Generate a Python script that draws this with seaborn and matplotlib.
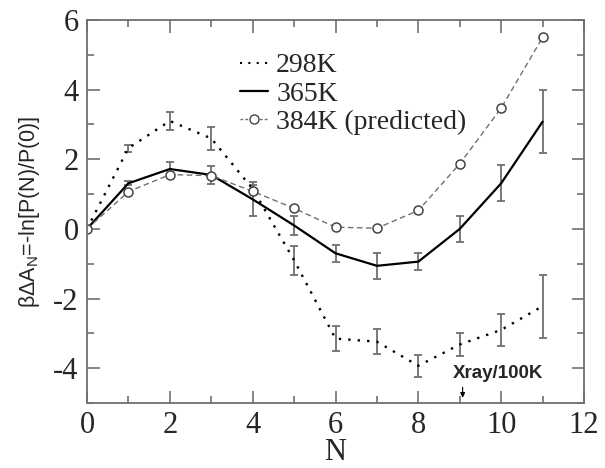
import numpy as np
import pandas as pd
import matplotlib
matplotlib.use("Agg")
import matplotlib.pyplot as plt
import seaborn as sns
from matplotlib.lines import Line2D
from matplotlib.ticker import MultipleLocator

N = list(range(12))
a298 = [0, 2.32, 3.1, 2.6, 1.15, -0.9, -3.15, -3.24, -3.93, -3.32, -2.9, -2.22]
e298 = [0, 0.1, 0.27, 0.32, 0.12, 0.42, 0.36, 0.36, 0.31, 0.33, 0.46, 0.9]
a365 = [0, 1.31, 1.72, 1.55, 0.85, 0.1, -0.7, -1.06, -0.94, 0.0, 1.31, 3.08]
e365 = [0, 0.06, 0.2, 0.25, 0.49, 0.28, 0.24, 0.37, 0.24, 0.38, 0.52, 0.9]
a384 = [0, 1.07, 1.56, 1.53, 1.08, 0.59, 0.05, 0.02, 0.53, 1.87, 3.47, 5.5]
labels = ["298K", "365K", "384K (predicted)"]
xticks = [0, 2, 4, 6, 8, 10, 12]
yticks = [-4, -2, 0, 2, 4, 6]

sns.set_style("ticks")
plt.rcParams['font.family'] = ['Liberation Serif', 'DejaVu Serif']
plt.rcParams['mathtext.fontset'] = 'custom'
plt.rcParams['mathtext.rm'] = 'Liberation Sans'
plt.rcParams['axes.unicode_minus'] = False

fig = plt.figure(figsize=(6.05, 4.68), dpi=100)
ax = fig.add_axes([87 / 605, 1 - 403 / 468, (584 - 87) / 605, (403 - 20) / 468])

df = pd.DataFrame({"N": N, "a298": a298, "a365": a365, "a384": a384})
gray = "#707070"

ax.errorbar(N, a298, yerr=e298, fmt="none", ecolor=gray, elinewidth=1.3, capsize=3.2, capthick=1.3)
ax.errorbar(N, a365, yerr=e365, fmt="none", ecolor=gray, elinewidth=1.3, capsize=3.2, capthick=1.3)

sns.lineplot(data=df, x="N", y="a298", ax=ax, color="black", linestyle=(0, (1, 3)), linewidth=1.7)
sns.lineplot(data=df, x="N", y="a365", ax=ax, color="black", linestyle="-", linewidth=1.6)
sns.lineplot(data=df, x="N", y="a384", ax=ax, color=gray, linestyle=(0, (4, 2.5)), linewidth=1.0,
             marker="o", markersize=6.5, markerfacecolor="white", markeredgecolor="#444444", markeredgewidth=1.1)

ax.set_xlim(0, 12)
ax.set_ylim(-5, 6)
ax.set_xticks(xticks)
ax.set_yticks(yticks)
ax.xaxis.set_minor_locator(MultipleLocator(1))
ax.yaxis.set_minor_locator(MultipleLocator(1))
ax.tick_params(which="both", direction="in", top=True, right=True, color=gray, width=1.2)
ax.tick_params(which="major", length=9, labelsize=22, pad=6)
ax.tick_params(which="minor", length=5)
for s in ax.spines.values():
    s.set_color(gray)
    s.set_linewidth(1.3)

ax.set_xlabel("N", fontsize=22, labelpad=-2)
ax.set_ylabel(r"βΔA$_{\mathrm{N}}$=-ln[P(N)/P(0)]", fontsize=15.5, family=['Liberation Sans', 'DejaVu Sans'], labelpad=8)

handles = [
    Line2D([], [], color="black", linestyle=(0, (1, 3)), linewidth=1.5),
    Line2D([], [], color="black", linestyle="-", linewidth=1.6),
    Line2D([], [], color=gray, linestyle=(0, (2, 1.5)), linewidth=1.0, marker="o", markersize=6.5,
           markerfacecolor="white", markeredgecolor="#444444", markevery=[0, -1]),
]
leg = ax.legend(handles, labels, loc="upper left", bbox_to_anchor=(0.28, 0.95), frameon=False,
                fontsize=20, handlelength=1.0, handletextpad=0.3, labelspacing=0.1, borderpad=0)

ax.text(8.83, -4.4, "Xray/100K", ha="left", va="bottom",
        fontsize=13.5, fontweight="bold", family=['Liberation Sans', 'DejaVu Sans'])
ax.annotate("", xy=(9.07, -4.85), xytext=(9.07, -4.55),
            arrowprops=dict(arrowstyle="-|>", color="black", lw=0.8, mutation_scale=7, shrinkA=0, shrinkB=0))

fig.savefig("out.png", dpi=100)
